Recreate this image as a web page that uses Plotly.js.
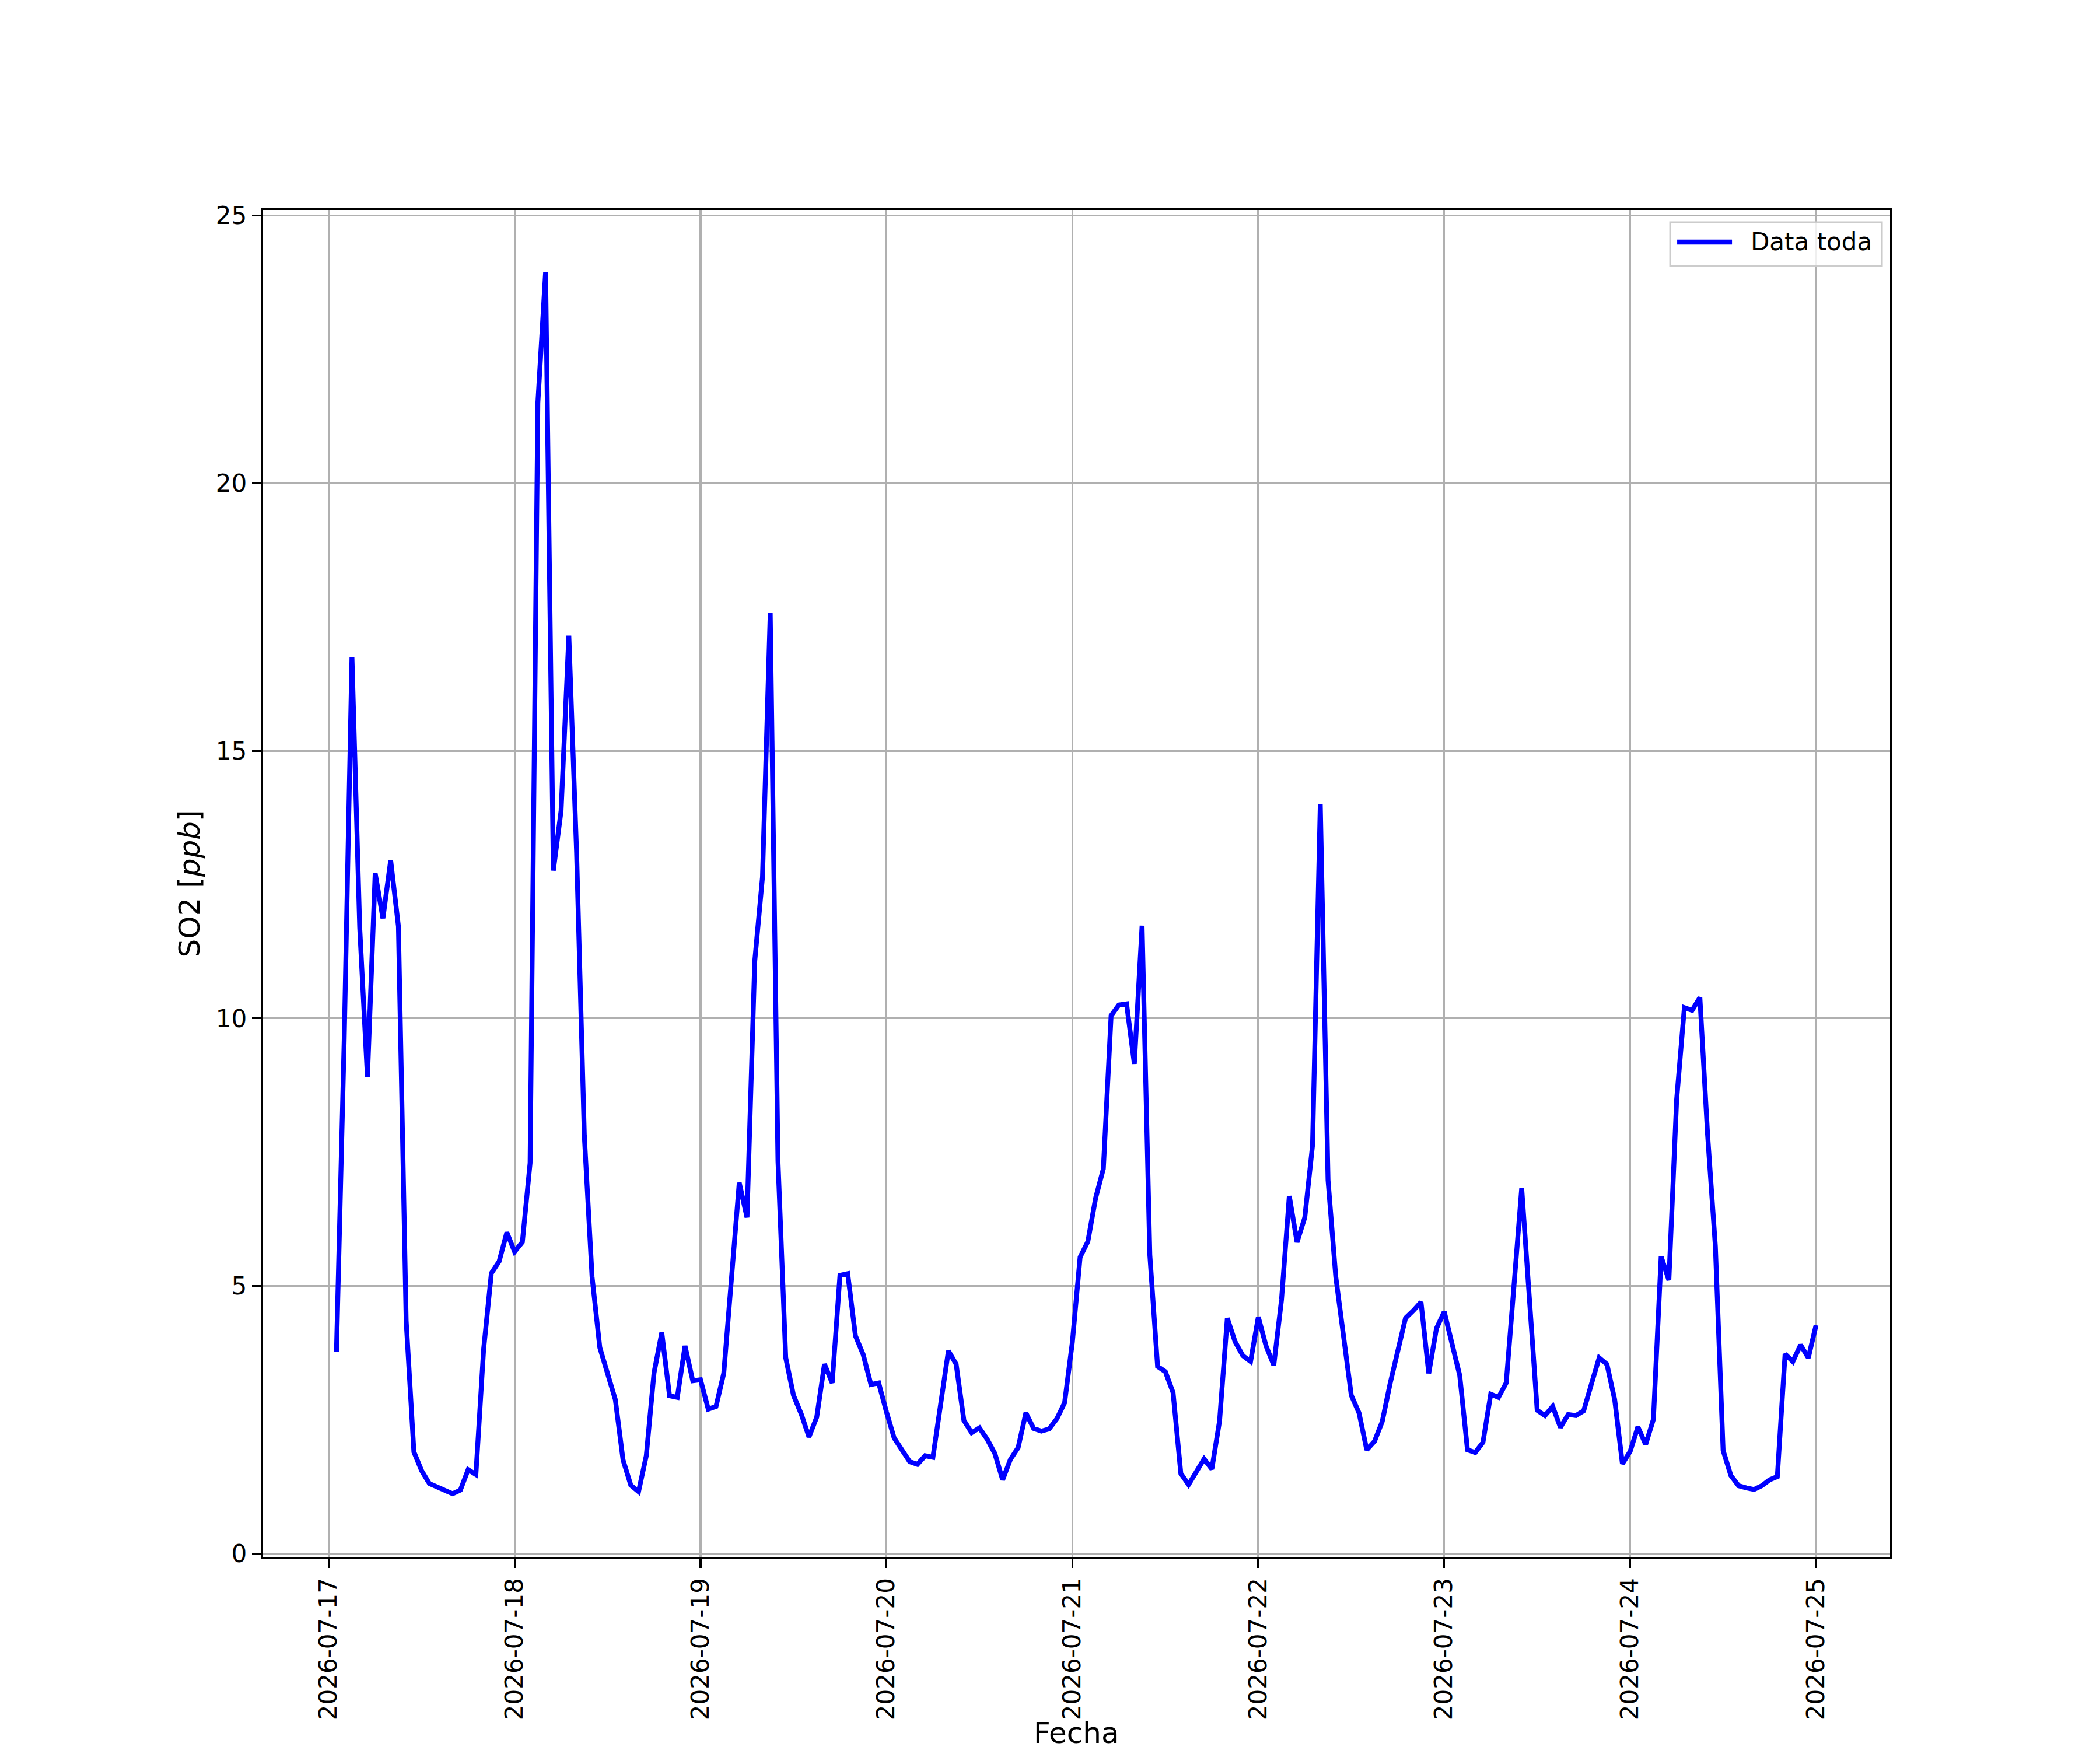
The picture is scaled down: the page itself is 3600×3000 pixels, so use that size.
<!DOCTYPE html>
<html>
<head>
<meta charset="utf-8">
<script src="https://cdn.plot.ly/plotly-3.0.1.min.js"></script>
<style>html,body{margin:0;padding:0;background:#fff;}#chart{width:3600px;height:3000px;}</style>
</head>
<body>
<div id="chart"></div>
<script>
// Day labels (tick labels) and hourly SO2 values [ppb] per calendar day
const dayLabels = ["2026-07-17","2026-07-18","2026-07-19","2026-07-20","2026-07-21","2026-07-22","2026-07-23","2026-07-24","2026-07-25"];
// first hour of each day's series (07-17 starts at 01:00)
const firstHour = [1,0,0,0,0,0,0,0,0];
const seriesName = "Data toda";

const so2_0717 = [3.77,9.6,16.75,11.7,8.9,12.71,11.87,12.95,11.72,4.35,1.9,1.55,1.31,1.24,1.17,1.12,1.19,1.57,1.48,3.82,5.24,5.46,6.0];
const so2_0718 = [5.64,5.82,7.30,21.5,23.94,12.76,13.88,17.15,13.1,7.81,5.17,3.85,3.34,2.88,1.75,1.28,1.16,1.83,3.38,4.13,2.95,2.92,3.88,3.23];
const so2_0719 = [3.25,2.7,2.75,3.37,5.15,6.93,6.28,11.07,12.64,17.57,7.33,3.66,2.96,2.61,2.18,2.55,3.54,3.19,5.2,5.23,4.07,3.72,3.16,3.19];
const so2_0720 = [2.65,2.16,1.94,1.72,1.67,1.83,1.80,2.8,3.79,3.54,2.49,2.26,2.35,2.14,1.87,1.38,1.76,1.98,2.63,2.34,2.29,2.33,2.52,2.82];
const so2_0721 = [3.95,5.54,5.83,6.64,7.19,10.05,10.25,10.27,9.15,11.73,5.58,3.50,3.40,3.01,1.50,1.29,1.54,1.77,1.58,2.48,4.40,3.96,3.70,3.59];
const so2_0722 = [4.42,3.88,3.52,4.75,6.68,5.82,6.28,7.63,14.0,6.98,5.17,4.10,2.96,2.63,1.94,2.10,2.47,3.17,3.82,4.40,4.54,4.70,3.37,4.21];
const so2_0723 = [4.52,3.90,3.33,1.94,1.89,2.08,2.98,2.92,3.19,5.0,6.83,4.75,2.68,2.58,2.75,2.36,2.60,2.58,2.67,3.17,3.66,3.54,2.88,1.68];
const so2_0724 = [1.91,2.37,2.04,2.51,5.55,5.11,8.48,10.20,10.15,10.39,7.82,5.74,1.93,1.46,1.27,1.23,1.20,1.27,1.38,1.44,3.73,3.59,3.90,3.66];
const so2_0725 = [4.27];

const dayValues = [so2_0717,so2_0718,so2_0719,so2_0720,so2_0721,so2_0722,so2_0723,so2_0724,so2_0725];

const x = [], y = [];
dayValues.forEach((vals, d) => {
  vals.forEach((v, i) => {
    const hh = String(firstHour[d] + i).padStart(2, "0");
    x.push(dayLabels[d] + " " + hh + ":00:00");
    y.push(v);
  });
});

const FONT = "DejaVu Sans, Liberation Sans, sans-serif";
const LINE_COLOR = "#0000ff";
const LINE_W = 8.3;

const trace = {
  type: "scatter",
  mode: "lines",
  x: x,
  y: y,
  name: seriesName,
  showlegend: false,
  line: {color: LINE_COLOR, width: LINE_W}
};

// matplotlib-style legend box (upper right), drawn in paper coordinates
const legendShapes = [
  {type: "rect", xref: "paper", yref: "paper", x0: 0.8649, x1: 0.995, y0: 0.9584, y1: 0.9909,
   line: {color: "#cccccc", width: 3}, fillcolor: "rgba(255,255,255,0.8)", layer: "above"},
  {type: "line", xref: "paper", yref: "paper", x0: 0.8692, x1: 0.9029, y0: 0.9762, y1: 0.9762,
   line: {color: LINE_COLOR, width: LINE_W}, layer: "above"}
];
const annotations = [
  {xref: "paper", yref: "paper", x: 0.9135, y: 0.9762, xanchor: "left", yanchor: "middle",
   text: seriesName, showarrow: false, font: {family: FONT, size: 42, color: "#000"}},
  // x-axis title placed like matplotlib's, near the figure's bottom edge
  {xref: "paper", yref: "paper", x: 0.5, y: -0.1305, xanchor: "center", yanchor: "middle",
   text: "Fecha", showarrow: false, font: {family: FONT, size: 50, color: "#000"}}
];

const layout = {
  width: 3600,
  height: 3000,
  paper_bgcolor: "#ffffff",
  plot_bgcolor: "#ffffff",
  font: {family: FONT, size: 42, color: "#000000"},
  margin: {l: 450, r: 360, t: 360, b: 330, pad: 0},
  showlegend: false,
  shapes: legendShapes,
  annotations: annotations,
  xaxis: {
    type: "date",
    range: ["2026-07-16 15:27:00", "2026-07-25 09:33:00"],
    tickmode: "array",
    tickvals: dayLabels.map(d => d + " 00:00:00"),
    ticktext: dayLabels,
    tickangle: -90,
    tickfont: {family: FONT, size: 42, color: "#000"},
    ticks: "outside",
    ticklen: 15,
    tickwidth: 3.3,
    tickcolor: "#000",
    showgrid: true,
    gridcolor: "#b0b0b0",
    gridwidth: 3.3,
    showline: true,
    linecolor: "#000",
    linewidth: 3.3,
    mirror: true,
    zeroline: false,
    automargin: false
  },
  yaxis: {
    range: [-0.07, 25.1],
    tickmode: "array",
    tickvals: [0,5,10,15,20,25],
    ticktext: ["0","5","10","15","20","25"],
    tickfont: {family: FONT, size: 42, color: "#000"},
    ticks: "outside",
    ticklen: 15,
    tickwidth: 3.3,
    tickcolor: "#000",
    showgrid: true,
    gridcolor: "#b0b0b0",
    gridwidth: 3.3,
    showline: true,
    linecolor: "#000",
    linewidth: 3.3,
    mirror: true,
    zeroline: false,
    automargin: false,
    title: {text: "SO2 [<i>ppb</i>]", font: {family: FONT, size: 50, color: "#000"}, standoff: 12}
  }
};

Plotly.newPlot("chart", [trace], layout, {staticPlot: true, displayModeBar: false});
</script>
</body>
</html>
